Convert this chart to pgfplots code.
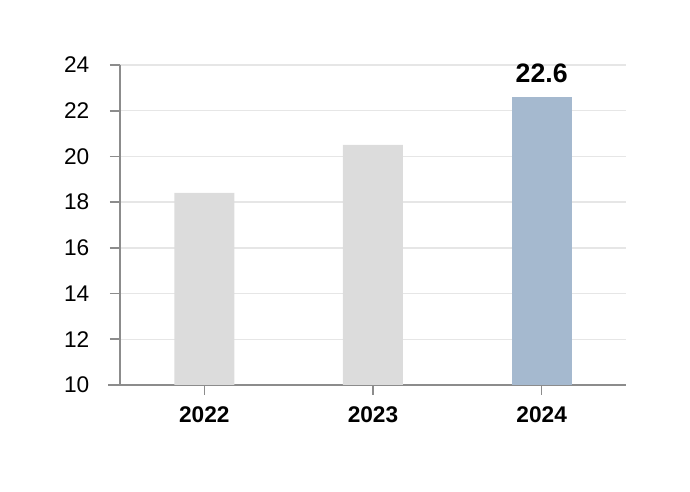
\documentclass[border=0pt]{standalone}
\usepackage{pgfplots}
\pgfplotsset{compat=1.18}
\usepackage{fontspec}
\setmainfont{Liberation Sans}
\definecolor{bargray}{HTML}{DCDCDC}
\definecolor{barblue}{HTML}{A5B9CF}
\definecolor{axgray}{HTML}{8C8C8C}
\definecolor{gridgray}{HTML}{E6E6E6}
\begin{document}
\begin{tikzpicture}
\path[use as bounding box] (-90pt,-80.25pt) rectangle (427.5pt,288.75pt);
\begin{axis}[
  at={(0,0)}, anchor=south west,
  scale only axis, width=379.5pt, height=240pt,
  xmin=-0.5, xmax=2.5, ymin=10, ymax=24,
  axis lines=left, axis line style={-, draw=axgray, line width=1.2pt},
  xtick={0,1,2}, xticklabels={2022,2023,2024},
  ytick={10,12,...,24},
  tick align=outside, major tick length=7.5pt,
  tick style={draw=axgray, line width=1.2pt},
  ymajorgrids, grid style={draw=gridgray, line width=1pt},
  /pgf/number format/assume math mode=true,
  yticklabel style={font=\fontsize{17}{20}\selectfont, xshift=-12pt},
  xticklabel style={font=\fontsize{17}{20}\selectfont\bfseries, yshift=-5pt},
  ybar, bar width=45pt, bar shift=0pt,
  clip=false,
]
\addplot[fill=bargray, draw=none] coordinates {(0,18.4) (1,20.5)};
\addplot[fill=barblue, draw=none,
  nodes near coords, nodes near coords style={font=\fontsize{20}{24}\selectfont\bfseries, text=black, yshift=7pt},
  point meta=explicit symbolic] coordinates {(2,22.6) [22.6]};
\draw[axgray, line width=1.2pt] (rel axis cs:0,0) -- ([xshift=-9pt]rel axis cs:0,0);
\end{axis}
\end{tikzpicture}
\end{document}
